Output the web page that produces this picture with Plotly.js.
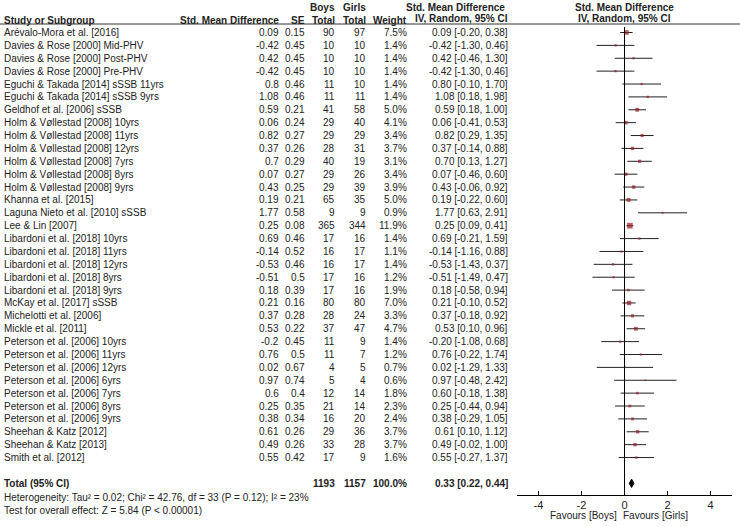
<!DOCTYPE html>
<html>
<head>
<meta charset="utf-8">
<script src="https://cdn.plot.ly/plotly-3.0.1.min.js"></script>
<style>html,body{margin:0;padding:0;background:#fff}#chart{width:740px;height:527px}</style>
</head>
<body>
<div id="chart"></div>
<script>
const studies = [
"Arévalo-Mora et al. [2016]",
"Davies & Rose [2000] Mid-PHV",
"Davies & Rose [2000] Post-PHV",
"Davies & Rose [2000] Pre-PHV",
"Eguchi & Takada [2014] sSSB 11yrs",
"Eguchi & Takada [2014] sSSB 9yrs",
"Geldhof et al. [2006] sSSB",
"Holm & Vøllestad [2008] 10yrs",
"Holm & Vøllestad [2008] 11yrs",
"Holm & Vøllestad [2008] 12yrs",
"Holm & Vøllestad [2008] 7yrs",
"Holm & Vøllestad [2008] 8yrs",
"Holm & Vøllestad [2008] 9yrs",
"Khanna et al. [2015]",
"Laguna Nieto et al. [2010] sSSB",
"Lee & Lin [2007]",
"Libardoni et al. [2018] 10yrs",
"Libardoni et al. [2018] 11yrs",
"Libardoni et al. [2018] 12yrs",
"Libardoni et al. [2018] 8yrs",
"Libardoni et al. [2018] 9yrs",
"McKay et al. [2017] sSSB",
"Michelotti et al. [2006]",
"Mickle et al. [2011]",
"Peterson et al. [2006] 10yrs",
"Peterson et al. [2006] 11yrs",
"Peterson et al. [2006] 12yrs",
"Peterson et al. [2006] 6yrs",
"Peterson et al. [2006] 7yrs",
"Peterson et al. [2006] 8yrs",
"Peterson et al. [2006] 9yrs",
"Sheehan & Katz [2012]",
"Sheehan & Katz [2013]",
"Smith et al. [2012]"];
const smd = [0.09,-0.42,0.42,-0.42,0.8,1.08,0.59,0.06,0.82,0.37,0.7,0.07,0.43,0.19,1.77,0.25,0.69,-0.14,-0.53,-0.51,0.18,0.21,0.37,0.53,-0.2,0.76,0.02,0.97,0.6,0.25,0.38,0.61,0.49,0.55];
const se = [0.15,0.45,0.45,0.45,0.46,0.46,0.21,0.24,0.27,0.26,0.29,0.27,0.25,0.21,0.58,0.08,0.46,0.52,0.46,0.5,0.39,0.16,0.28,0.22,0.45,0.5,0.67,0.74,0.4,0.35,0.34,0.26,0.26,0.42];
const boysTotal = [90,10,10,10,11,11,41,29,29,28,40,29,29,65,9,365,17,16,16,17,17,80,28,37,11,11,4,5,12,21,16,29,33,17];
const girlsTotal = [97,10,10,10,10,11,58,40,29,31,19,26,39,35,9,344,16,17,17,16,16,80,24,47,9,7,5,4,14,14,20,36,28,9];
const weight = [7.5,1.4,1.4,1.4,1.4,1.4,5.0,4.1,3.4,3.7,3.1,3.4,3.9,5.0,0.9,11.9,1.4,1.1,1.4,1.2,1.9,7.0,3.3,4.7,1.4,1.2,0.7,0.6,1.8,2.3,2.4,3.7,3.7,1.6];
const ciLow = [-0.20,-1.30,-0.46,-1.30,-0.10,0.18,0.18,-0.41,0.29,-0.14,0.13,-0.46,-0.06,-0.22,0.63,0.09,-0.21,-1.16,-1.43,-1.49,-0.58,-0.10,-0.18,0.10,-1.08,-0.22,-1.29,-0.48,-0.18,-0.44,-0.29,0.10,-0.02,-0.27];
const ciHigh = [0.38,0.46,1.30,0.46,1.70,1.98,1.00,0.53,1.35,0.88,1.27,0.60,0.92,0.60,2.91,0.41,1.59,0.88,0.37,0.47,0.94,0.52,0.92,0.96,0.68,1.74,1.33,2.42,1.38,0.94,1.05,1.12,1.00,1.37];

const totalLabel = "Total (95% CI)";
const totalBoys = 1193;
const totalGirls = 1157;
const totalWeight = 100.0;
const totalEst = 0.33;
const totalLow = 0.22;
const totalHigh = 0.44;
const heterogeneityText = "Heterogeneity: Tau² = 0.02; Chi² = 42.76, df = 33 (P = 0.12); I² = 23%";
const overallText = "Test for overall effect: Z = 5.84 (P < 0.00001)";
const tickValues = [-4,-2,0,2,4];
const tickLabels = ["-4","-2","0","2","4"];
const favoursLeft = "Favours [Boys]";
const favoursRight = "Favours [Girls]";

const W = 740, H = 527;
const FONT = "Liberation Sans, Arial, sans-serif";
const FS = 10;
const TXT = "#222";
const px = x => x / W;
const py = y => 1 - y / H;
const rowTop = 32.5, rowStep = 12.88, axisPx = 495;
const yTopVal = -rowTop / rowStep;
const yBotVal = (axisPx - rowTop) / rowStep;
const totalRow = studies.length + 1;

const fmt2 = v => v.toFixed(2);
const ann = [];
function addText(text, x, y, anchor, yref, bold) {
  ann.push({text: bold ? "<b>" + text + "</b>" : text, x: px(x), xref: "paper",
    y: y, yref: yref, xanchor: anchor, yanchor: "middle", showarrow: false,
    borderpad: 0, borderwidth: 0,
    font: {family: FONT, size: FS, color: TXT}});
}
const colStudy = 4, colSmd = 279, colSe = 305, colBoys = 335, colGirls = 366, colW = 407, colCI = 508;

// headers
addText("Boys", colBoys, py(7), "right", "paper", true);
addText("Girls", colGirls, py(7), "right", "paper", true);
addText("Std. Mean Difference", colCI - 3, py(7), "right", "paper", true);
addText("Std. Mean Difference", 624, py(7), "center", "paper", true);
addText("Study or Subgroup", colStudy, py(20), "left", "paper", true);
addText("Std. Mean Difference", colSmd, py(20), "right", "paper", true);
addText("SE", colSe, py(20), "right", "paper", true);
addText("Total", colBoys, py(20), "right", "paper", true);
addText("Total", colGirls, py(20), "right", "paper", true);
addText("Weight", colW, py(20), "right", "paper", true);
addText("IV, Random, 95% CI", colCI, py(19), "right", "paper", true);
addText("IV, Random, 95% CI", 624, py(19), "center", "paper", true);

studies.forEach((s, i) => {
  addText(s, colStudy, i, "left", "y");
  addText(String(smd[i]), colSmd, i, "right", "y");
  addText(String(se[i]), colSe, i, "right", "y");
  addText(String(boysTotal[i]), colBoys, i, "right", "y");
  addText(String(girlsTotal[i]), colGirls, i, "right", "y");
  addText(weight[i].toFixed(1) + "%", colW, i, "right", "y");
  addText(fmt2(smd[i]) + " [" + fmt2(ciLow[i]) + ", " + fmt2(ciHigh[i]) + "]", colCI, i, "right", "y");
});
addText(totalLabel, colStudy, totalRow, "left", "y", true);
addText(String(totalBoys), colBoys, totalRow, "right", "y", true);
addText(String(totalGirls), colGirls, totalRow, "right", "y", true);
addText(totalWeight.toFixed(1) + "%", colW, totalRow, "right", "y", true);
addText(fmt2(totalEst) + " [" + fmt2(totalLow) + ", " + fmt2(totalHigh) + "]", colCI, totalRow, "right", "y", true);
addText(heterogeneityText, colStudy, py(497), "left", "paper");
addText(overallText, colStudy, py(510), "left", "paper");
addText(favoursLeft, 617, py(515), "right", "paper");
addText(favoursRight, 623, py(515), "left", "paper");

const rows = studies.map((_, i) => i);
const traces = [
  {type: "scatter", mode: "markers", x: smd, y: rows,
   marker: {symbol: "square", color: "#9c1c24", size: weight.map(w => 1.5 * Math.sqrt(w) + 0.5), line: {width: 0}},
   error_x: {type: "data", symmetric: false,
     array: ciHigh.map((h, i) => h - smd[i]),
     arrayminus: ciLow.map((l, i) => smd[i] - l),
     width: 0, thickness: 1, color: "#222"},
   hoverinfo: "skip", showlegend: false},
  {type: "scatter", mode: "lines", fill: "toself", fillcolor: "#000",
   x: [totalLow, totalEst, totalHigh, totalEst, totalLow],
   y: [totalRow, totalRow - 0.32, totalRow, totalRow + 0.32, totalRow],
   line: {color: "#000", width: 1}, hoverinfo: "skip", showlegend: false}
];

const layout = {
  width: W, height: H,
  margin: {l: 0, r: 0, t: 0, b: 0},
  paper_bgcolor: "#fff", plot_bgcolor: "rgba(0,0,0,0)",
  showlegend: false,
  xaxis: {domain: [px(517), px(732)], range: [-5, 5], tickvals: tickValues, ticktext: tickLabels,
    ticks: "inside", ticklen: 4, tickcolor: "#000", tickwidth: 1,
    showline: true, linecolor: "#000", linewidth: 1, showgrid: false, zeroline: false,
    tickfont: {family: FONT, size: 11, color: TXT}, fixedrange: true},
  yaxis: {domain: [(H - axisPx) / H, 1], range: [yBotVal, yTopVal], visible: false,
    showgrid: false, zeroline: false, fixedrange: true},
  shapes: [
    {type: "line", xref: "paper", yref: "paper", x0: 0, x1: 1, y0: py(24), y1: py(24),
     line: {color: "#333", width: 1}},
    {type: "line", xref: "x", yref: "y", x0: 0, x1: 0, y0: (27 - rowTop) / rowStep, y1: yBotVal,
     line: {color: "#000", width: 1}}
  ],
  annotations: ann
};
Plotly.newPlot("chart", traces, layout, {displayModeBar: false, staticPlot: true});
</script>
</body>
</html>
